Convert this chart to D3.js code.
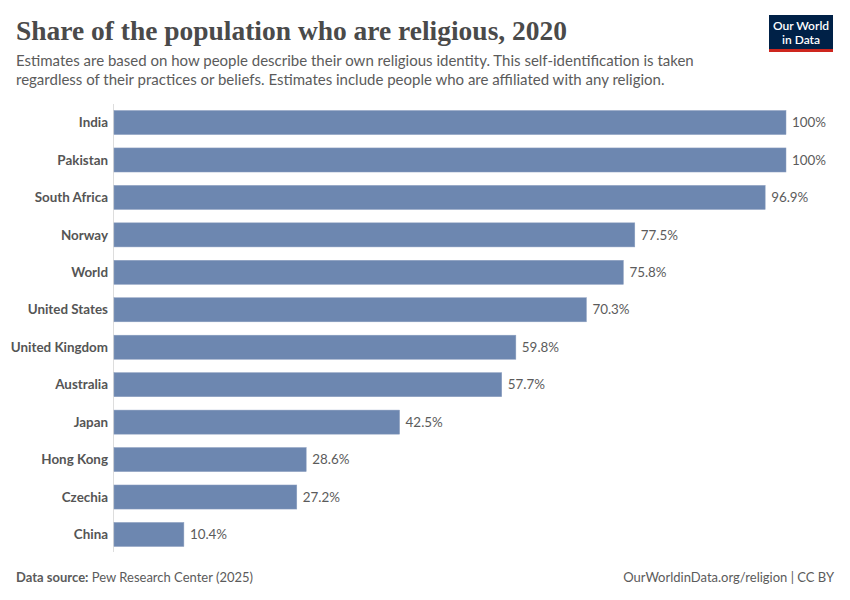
<!DOCTYPE html>
<html>
<head>
<meta charset="utf-8">
<script src="https://cdn.jsdelivr.net/npm/d3@7"></script>
<style>
  body { margin: 0; background: #fff; }
  svg { display: block; }
</style>
</head>
<body>
<svg id="chart" width="850" height="600"></svg>
<script>
// data
var countries = ['India', 'Pakistan', 'South Africa', 'Norway', 'World', 'United States',
    'United Kingdom', 'Australia', 'Japan', 'Hong Kong', 'Czechia', 'China'];
var shares = [100, 100, 96.9, 77.5, 75.8, 70.3, 59.8, 57.7, 42.5, 28.6, 27.2, 10.4];
var shareLabels = ['100%', '100%', '96.9%', '77.5%', '75.8%', '70.3%', '59.8%', '57.7%',
    '42.5%', '28.6%', '27.2%', '10.4%'];

var svg = d3.select('#chart');
var sans = 'Lato, "Noto Sans", sans-serif';

// header
svg.append('text')
    .attr('x', 16).attr('y', 40)
    .attr('font-family', '"Liberation Serif", "DejaVu Serif", serif')
    .attr('font-size', 27)
    .attr('font-weight', 'bold')
    .attr('textLength', 551)
    .attr('lengthAdjust', 'spacingAndGlyphs')
    .attr('fill', '#4a4a4a')
    .text('Share of the population who are religious, 2020');

var sub = ['Estimates are based on how people describe their own religious identity. This self-identification is taken',
    'regardless of their practices or beliefs. Estimates include people who are affiliated with any religion.'];
svg.selectAll('.sub').data(sub).enter().append('text')
    .attr('class', 'sub')
    .attr('x', 16)
    .attr('y', function(d, i) { return 66 + i * 18.5; })
    .attr('font-family', sans)
    .attr('font-size', 15)
    .attr('fill', '#5b5b5b')
    .text(function(d) { return d; });

// logo
var logo = svg.append('g');
logo.append('rect').attr('x', 769).attr('y', 15).attr('width', 64).attr('height', 37).attr('fill', '#002147');
logo.append('rect').attr('x', 769).attr('y', 49).attr('width', 64).attr('height', 3).attr('fill', '#ce261e');
logo.append('text').attr('x', 801).attr('y', 30).attr('text-anchor', 'middle')
    .attr('font-family', sans).attr('font-size', 12).attr('font-weight', 600).attr('fill', '#fff').text('Our World');
logo.append('text').attr('x', 801).attr('y', 44).attr('text-anchor', 'middle')
    .attr('font-family', sans).attr('font-size', 12).attr('font-weight', 600).attr('fill', '#fff').text('in Data');

// scales
var x = d3.scaleLinear().domain([0, 100]).range([114, 786]);
var y = d3.scaleBand().domain(countries).range([103, 554]).paddingInner(0.357).paddingOuter(0.2);

// vertical axis line
svg.append('line')
    .attr('x1', 113.5).attr('x2', 113.5)
    .attr('y1', 104).attr('y2', 552)
    .attr('stroke', '#ddd').attr('stroke-width', 1);

var rows = svg.selectAll('.row').data(countries).enter().append('g').attr('class', 'row');

rows.append('rect')
    .attr('x', x(0))
    .attr('y', function(d) { return y(d); })
    .attr('width', function(d, i) { return x(shares[i]) - x(0); })
    .attr('height', y.bandwidth())
    .attr('fill', '#6d87b0')
    .attr('stroke', '#8da0c0').attr('stroke-width', 0.5);

rows.append('text')
    .attr('x', 108)
    .attr('y', function(d) { return y(d) + y.bandwidth() / 2; })
    .attr('dy', '0.35em')
    .attr('text-anchor', 'end')
    .attr('font-family', sans)
    .attr('font-size', 13.4)
    .attr('font-weight', 'bold')
    .attr('fill', '#555')
    .text(function(d) { return d; });

rows.append('text')
    .attr('x', function(d, i) { return x(shares[i]) + 6; })
    .attr('y', function(d) { return y(d) + y.bandwidth() / 2; })
    .attr('dy', '0.35em')
    .attr('font-family', sans)
    .attr('font-size', 13.4)
    .attr('fill', '#5b5b5b')
    .text(function(d, i) { return shareLabels[i]; });

// footer
var src = svg.append('text').attr('x', 16).attr('y', 582)
    .attr('font-family', sans).attr('font-size', 13).attr('fill', '#5b5b5b');
src.append('tspan').attr('font-weight', 'bold').text('Data source:');
src.append('tspan').text(' Pew Research Center (2025)');

svg.append('text').attr('x', 834).attr('y', 582).attr('text-anchor', 'end')
    .attr('font-family', sans).attr('font-size', 13).attr('fill', '#5b5b5b')
    .text('OurWorldinData.org/religion | CC BY');
</script>
</body>
</html>
